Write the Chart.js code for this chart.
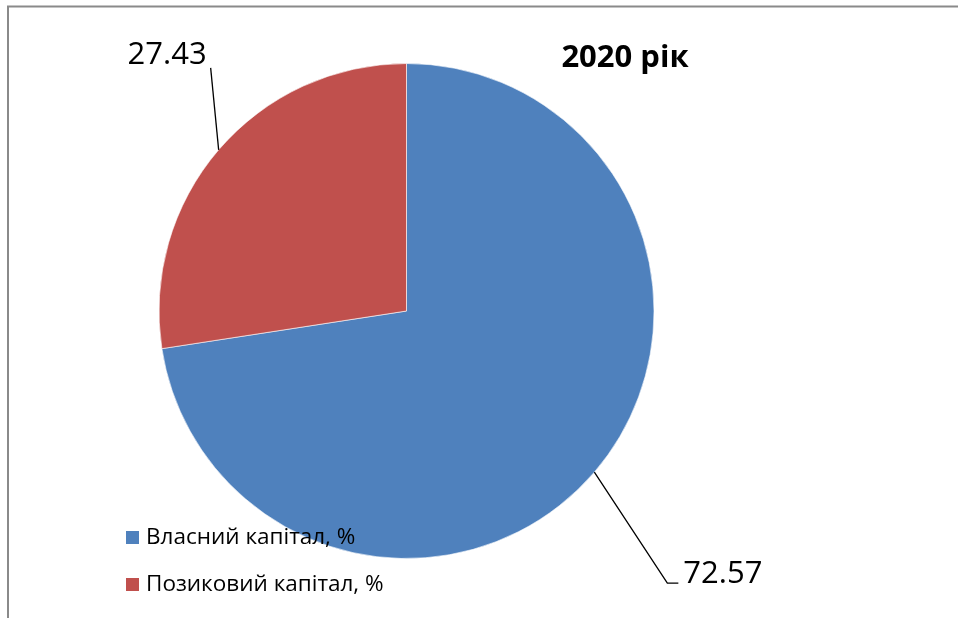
<!DOCTYPE html>
<html>
<head>
<meta charset="utf-8">
<script src="https://cdn.jsdelivr.net/npm/chart.js@4.4.0/dist/chart.umd.min.js"></script>
<style>
  html, body { margin: 0; padding: 0; background: #fff; }
  #wrap { width: 958px; height: 618px; position: relative; }
</style>
</head>
<body>
<div id="wrap"><canvas id="pie"></canvas></div>
<script>
// Datos
const titulo = "2020 рік";
const categorias = ["Власний капітал, %", "Позиковий капітал, %"];
const valores = [72.57, 27.43];
const colores = ["#4F81BD", "#C0504D"];

// Marco gris (solo arriba e izquierda, como en el original)
const marco = {
  id: "marco",
  beforeDraw(chart) {
    const ctx = chart.ctx;
    ctx.save();
    ctx.strokeStyle = "#8a8a8a";
    ctx.lineWidth = 2;
    ctx.beginPath();
    ctx.moveTo(8, 618);
    ctx.lineTo(8, 6.5);
    ctx.lineTo(958, 6.5);
    ctx.stroke();
    ctx.restore();
  },
};

// Etiquetas con líneas guía, título y leyenda
const etiquetas = {
  id: "etiquetas",
  afterDraw(chart) {
    const ctx = chart.ctx;
    const meta = chart.getDatasetMeta(0);
    ctx.save();
    ctx.strokeStyle = "#000";
    ctx.lineWidth = 1.3;
    ctx.fillStyle = "#000";
    ctx.font = "31px 'Open Sans', sans-serif";
    ctx.textBaseline = "middle";

    meta.data.forEach((arc, i) => {
      const p = arc.getProps(["x", "y", "startAngle", "endAngle", "outerRadius"], true);
      const mid = (p.startAngle + p.endAngle) / 2;
      const ex = p.x + Math.cos(mid) * p.outerRadius;
      const ey = p.y + Math.sin(mid) * p.outerRadius;
      const txt = valores[i].toFixed(2);
      ctx.beginPath();
      if (Math.cos(mid) > 0) {
        // derecha abajo
        ctx.moveTo(ex, ey);
        ctx.lineTo(ex + 73, ey + 111);
        ctx.lineTo(ex + 84, ey + 111);
        ctx.stroke();
        ctx.textAlign = "left";
        ctx.fillText(txt, ex + 89, ey + 102);
      } else {
        // izquierda arriba
        ctx.moveTo(ex, ey);
        ctx.lineTo(ex - 8, ey - 82);
        ctx.stroke();
        ctx.textAlign = "right";
        ctx.fillText(txt, ex - 12, ey - 95);
      }
    });

    // título
    ctx.font = "bold 31px 'Open Sans', sans-serif";
    ctx.textAlign = "center";
    ctx.fillText(titulo, 625, 58);

    // leyenda
    ctx.font = "22.5px 'Open Sans', sans-serif";
    ctx.textAlign = "left";
    categorias.forEach((c, i) => {
      const y = 538 + i * 47;
      ctx.fillStyle = colores[i];
      ctx.fillRect(126, y - 7, 13, 13);
      ctx.fillStyle = "#000";
      ctx.fillText(c, 146, y);
    });
    ctx.restore();
  },
};

new Chart(document.getElementById("pie"), {
  type: "pie",
  data: {
    labels: categorias,
    datasets: [{
      data: valores,
      backgroundColor: colores,
      borderColor: "rgba(255,255,255,0.6)",
      borderWidth: 1,
    }],
  },
  options: {
    responsive: true,
    maintainAspectRatio: false,
    animation: false,
    layout: { padding: { top: 63, bottom: 59, left: 158, right: 303 } },
    plugins: {
      legend: { display: false },
      tooltip: { enabled: false },
    },
  },
  plugins: [marco, etiquetas],
});
</script>
</body>
</html>
